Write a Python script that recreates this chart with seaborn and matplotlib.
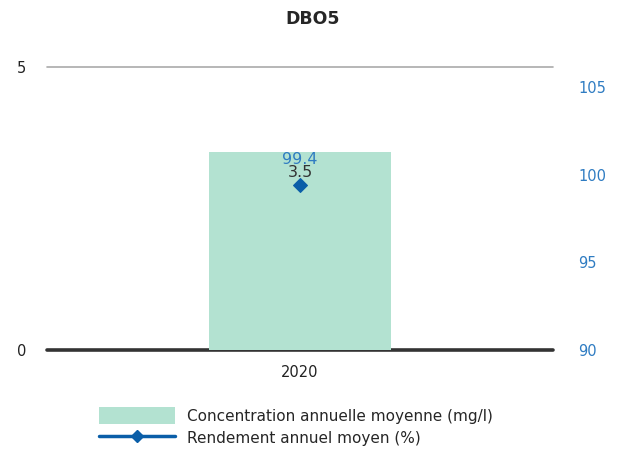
import pandas as pd
import seaborn as sns
import matplotlib.pyplot as plt
from matplotlib.patches import Patch
from matplotlib.lines import Line2D

years = ["2020"]
concentration = [3.5]   # mg/l
rendement = [99.4]      # %

df = pd.DataFrame({"annee": years, "concentration": concentration, "rendement": rendement})

bar_color = "#b3e2d1"
line_color = "#0a5ea8"
right_color = "#2f7cc2"

sns.set_style("white")
plt.rcParams["font.family"] = ["DejaVu Sans"]

fig = plt.figure(figsize=(6.25, 4.59), dpi=100)
ax = fig.add_axes([0.075, 0.2375, 0.81, 0.6165])

sns.barplot(data=df, x="annee", y="concentration", color=bar_color,
            width=0.36, saturation=1, linewidth=0, ax=ax, zorder=3)
ax.set_xlim(-0.5, 0.5)
ax.set_ylim(0, 5)
ax.set_yticks([0, 5])
ax.axhline(5, color="#aaaaaa", lw=1.2, zorder=1, clip_on=False)
ax.axhline(0, color="#333333", lw=2.6, zorder=2, clip_on=False)
for s in ax.spines.values():
    s.set_visible(False)
ax.set_xlabel("")
ax.set_ylabel("")
ax.tick_params(axis="y", length=0, pad=15, labelsize=10.5, labelcolor="#222222")
ax.tick_params(axis="x", length=5, width=1, color="#333333", direction="out",
               pad=6, labelsize=10.5, labelcolor="#222222")

ax.text(0, concentration[0] - 0.36, f"{concentration[0]:.1f}", ha="center", va="center",
        fontsize=11.5, color="#333333", zorder=5)

ax2 = ax.twinx()
sns.lineplot(data=df, x="annee", y="rendement", color=line_color, marker="D",
             markersize=7, markeredgecolor=line_color, ax=ax2, zorder=4)
ax2.set_ylim(90, 90 + 283 / 17.53)
ax2.set_yticks([90, 95, 100, 105])
ax2.set_ylabel("")
for s in ax2.spines.values():
    s.set_visible(False)
ax2.tick_params(axis="y", length=0, pad=18, labelsize=10.5, labelcolor=right_color)
ax2.text(0, rendement[0] + 1.45, f"{rendement[0]:.1f}", ha="center", va="center",
         fontsize=11.5, color=right_color, zorder=5)

fig.suptitle("DBO5", x=0.5, y=0.978, fontsize=12.5, fontweight="bold")

handles = [Patch(facecolor=bar_color, edgecolor="none"),
           Line2D([0], [0], color=line_color, lw=2.5, marker="D", markersize=6)]
labels = ["Concentration annuelle moyenne (mg/l)", "Rendement annuel moyen (%)"]
fig.legend(handles, labels, loc="upper left", bbox_to_anchor=(0.148, 0.127),
           frameon=False, fontsize=11, handlelength=5.0, handleheight=1.4,
           labelspacing=0.3, handletextpad=0.8, borderaxespad=0)

fig.savefig("out.png", dpi=100)
